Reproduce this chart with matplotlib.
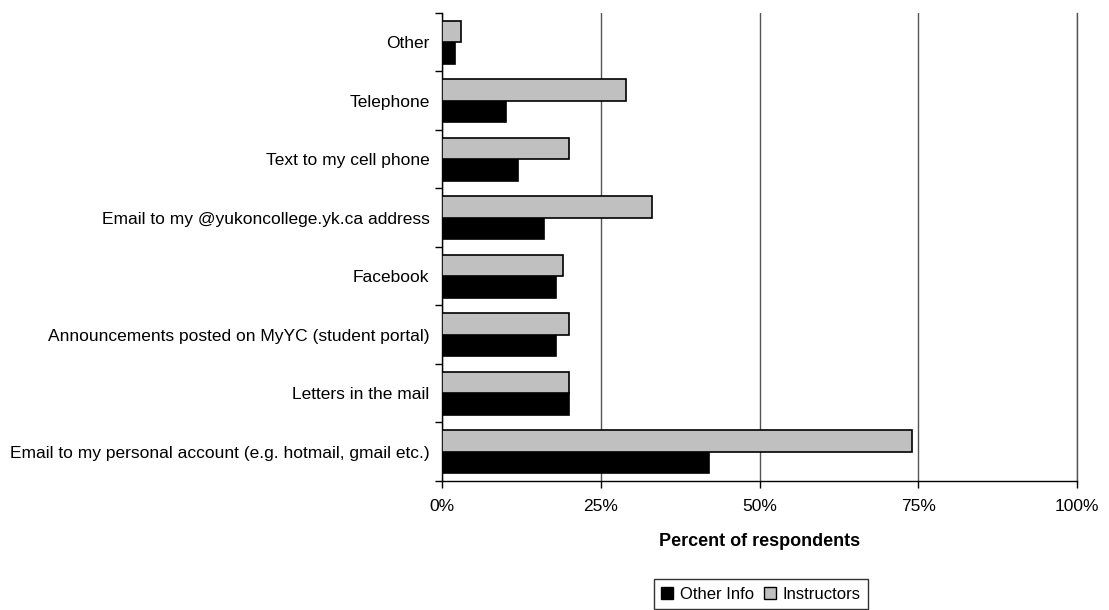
"""
Preferred ways for the college to reach students, by type of message.

Output:
    out.png
"""

import numpy as np
import matplotlib.pyplot as plt
from matplotlib.patches import Patch


# ---------------------------------------------------------------------
# Data (percent of respondents), bottom category first
# ---------------------------------------------------------------------

CATEGORIES = [
    "Email to my personal account (e.g. hotmail, gmail etc.)",
    "Letters in the mail",
    "Announcements posted on MyYC (student portal)",
    "Facebook",
    "Email to my @yukoncollege.yk.ca address",
    "Text to my cell phone",
    "Telephone",
    "Other",
]

OTHER_INFO = [42, 20, 18, 18, 16, 12, 10, 2]
INSTRUCTORS = [74, 20, 20, 19, 33, 20, 29, 3]

SERIES_NAMES = ["Other Info", "Instructors"]
X_TICKS = [0, 25, 50, 75, 100]

plt.rcParams["font.family"] = ["Liberation Sans", "DejaVu Sans"]

fig = plt.figure(figsize=(11.09, 6.10), dpi=100)
ax = fig.add_axes([0.3986, 0.2115, 0.5726, 0.7672])

y = np.arange(len(CATEGORIES))
bar_h = 0.37

ax.barh(y - bar_h / 2, OTHER_INFO, height=bar_h, color="black",
        edgecolor="black", linewidth=1.2, zorder=3)
ax.barh(y + bar_h / 2, INSTRUCTORS, height=bar_h, color="#c0c0c0",
        edgecolor="black", linewidth=1.2, zorder=3)

ax.set_xlim(0, 100)
ax.set_ylim(-0.5, len(CATEGORIES) - 0.5)

# x axis
ax.set_xticks(X_TICKS)
ax.set_xticklabels([f"{t}%" for t in X_TICKS], fontsize=12.5)
ax.tick_params(axis="x", length=5, width=1, direction="out", pad=8)
ax.xaxis.grid(True, color="#555555", linewidth=1, zorder=0)
ax.axvline(100, color="#555555", linewidth=1, zorder=0, clip_on=False)
ax.set_xlabel("Percent of respondents", fontsize=13, fontweight="bold",
              labelpad=14)

# y axis: labels at category centres, tick marks at the boundaries
ax.set_yticks(y)
ax.set_yticklabels(CATEGORIES, fontsize=12.5)
ax.set_yticks(np.arange(len(CATEGORIES) + 1) - 0.5, minor=True)
ax.tick_params(axis="y", which="major", length=0, pad=9)
ax.tick_params(axis="y", which="minor", length=5, width=1, direction="out")

for side in ("top", "right"):
    ax.spines[side].set_visible(False)
ax.spines["left"].set_linewidth(1)
ax.spines["bottom"].set_linewidth(1)

handles = [
    Patch(facecolor="black", edgecolor="black", label=SERIES_NAMES[0]),
    Patch(facecolor="#c0c0c0", edgecolor="black", label=SERIES_NAMES[1]),
]
fig.legend(handles=handles, loc="lower center", bbox_to_anchor=(0.686, 0.0),
           ncol=2, fontsize=12, frameon=True, fancybox=False,
           edgecolor="black", handlelength=0.7, handleheight=0.7,
           handletextpad=0.4, columnspacing=0.6, borderpad=0.45,
           borderaxespad=0.05)

fig.savefig("out.png", dpi=100)
